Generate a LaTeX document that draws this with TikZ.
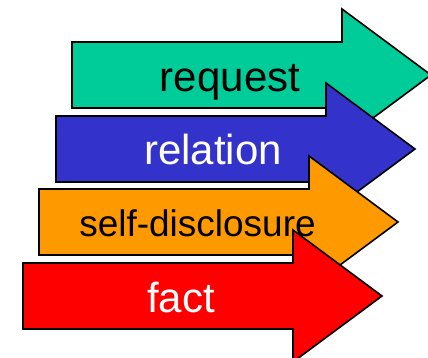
\documentclass[tikz,border=0pt]{standalone}
\usepackage{fontspec}
\setmainfont{Liberation Sans}
\definecolor{cgreen}{RGB}{0,204,153}
\definecolor{cblue}{RGB}{51,51,204}
\definecolor{corange}{RGB}{255,153,0}
\definecolor{cred}{RGB}{255,0,0}
\newcommand\bigarrow[3]{%
  \draw[arrowshape,fill=#3] (#1,#2) -- ++(270,0) -- ++(0,-33) -- ++(89,66) -- ++(-89,66) -- ++(0,-33) -- ++(-270,0) -- cycle;}
\begin{document}
\begin{tikzpicture}[x=1pt,y=-1pt,
  arrowshape/.style={draw=black,line width=1.6pt,line join=miter},
  lbl/.style={anchor=base,inner sep=0pt,font=\fontsize{42}{42}\selectfont}]
\useasboundingbox (0,0) rectangle (428,358);
\clip (0,0) rectangle (428,358);
\bigarrow{72}{42}{cgreen}
\node[lbl,text=black] (request) at (230,92) {request};
\bigarrow{56}{116}{cblue}
\node[lbl,text=white] (relation) at (213,165) {relation};
\bigarrow{39}{189}{corange}
\node[lbl,text=black,font=\fontsize{37}{37}\selectfont] (self) at (197.5,236) {self-disclosure};
\bigarrow{23}{263}{cred}
\node[lbl,text=white] (fact) at (181,312) {fact};
\end{tikzpicture}
\end{document}
